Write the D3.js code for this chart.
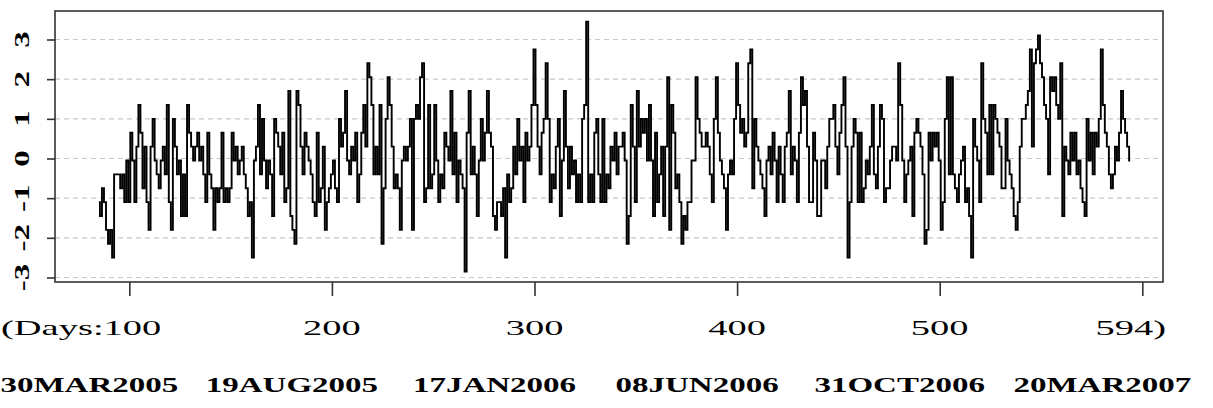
<!DOCTYPE html>
<html>
<head>
<meta charset="utf-8">
<script src="https://cdn.jsdelivr.net/npm/d3@7"></script>
<style>
    body { margin: 0; background: #fff; }
    svg text { font-family: "Liberation Serif", "Times New Roman", serif; fill: #000; }
</style>
</head>
<body>
<div id="chart"></div>
<script>
// standardized score per trading day, starting at day 85
let firstDay = 85;
let scores = [
    -1.1, -1.45, -0.75, -1.1, -1.8, -2.15, -1.8, -2.5, -0.4, -0.4,
    -0.4, -0.75, -0.4, -1.1, -0.05, -1.1, 0.65, -0.05, -1.1, 0.3,
    1.35, 0.65, -0.75, 0.3, -1.1, -1.8, 0.3, 1.0, -0.05, -0.4,
    -0.75, -0.05, 0.3, -0.4, 1.35, -1.1, -1.8, 1.0, 0.3, -0.4,
    -0.05, -1.45, -0.4, -1.45, 1.35, 0.65, 0.3, -0.05, 0.3, 0.65,
    // 135
    -0.05, 0.3, -0.4, -1.1, 0.65, -0.4, -0.75, -1.8, -0.75, -1.1,
    -0.75, 0.65, -1.1, -0.75, -1.1, -0.75, 0.65, -0.05, 0.3, -0.4,
    -0.05, 0.3, -0.4, -0.75, -1.45, -1.1, -2.5, -0.05, 0.3, 1.35,
    -0.4, 1.0, -0.05, -0.75, -0.05, -0.4, -1.45, 1.0, 0.65, 0.3,
    -0.4, 0.65, -1.1, -0.75, 1.7, -1.45, -1.8, -2.15, 1.7, 1.35,
    0.3, -0.4,
    // 187
    0.65, 0.3, -0.05, -0.4, -1.1, -1.45, 0.65, -1.1, -0.75, 0.3,
    -1.8, -1.1, -0.75, -0.4, -0.05, -0.75, -1.1, 1.0, 0.3, 0.65,
    1.7, -0.05, -0.4, 0.3, -0.05, 0.65, -1.1, -0.4, 0.65, 1.35,
    0.3, 2.4, 2.05, 1.35, -0.4, 0.3, -0.4, 1.35, -2.15, -0.75,
    1.0, 2.05, 1.35, 0.3, -0.75, -0.4, -0.75, -1.8, -0.05, 0.3,
    -0.05, 0.3, 1.0,
    // 240
    -1.8, 1.0, 1.35, 1.0, 2.05, 2.4, -1.1, -0.75, 1.35, -0.75,
    -0.4, 1.35, -0.05, -1.1, -0.4, -0.75, 0.65, 0.3, -0.05, 1.7,
    -0.4, 0.65, -1.1, -0.05, -0.4, -0.75, -2.85, 0.65, 1.7, -0.4,
    0.3, -0.4, -1.45, -0.05, 1.0, -0.05, 0.65, 1.7, 0.65, 0.3,
    -1.45, -1.8, -1.1, -1.1, -1.45, -0.75, -2.5, -0.4, -1.1, -0.75,
    0.3,
    // 291
    -0.4, 1.0, -0.05, 0.3, -1.1, 0.65, -0.05, 0.3, 1.35, 2.75,
    1.35, 0.3, -0.4, 0.65, 1.0, 2.4, 1.0, -1.1, -0.4, -0.75,
    0.3, 1.0, -1.45, -0.05, 1.7, 0.3, -0.75, 0.3, -0.4, -0.05,
    -1.1, -0.4, -1.1, 1.0, 1.35, 3.45, -1.1, -0.4, -1.1, 0.65,
    1.0, -0.4, -1.1, 1.0, -1.1, -0.4, -0.75, 0.3, -0.05, 0.65,
    // 341
    -0.4, 0.3, 0.3, 0.65, -0.05, -2.15, -1.45, 1.35, 0.3, -1.1,
    1.7, 0.3, 1.0, 0.65, 1.0, -0.05, 1.35, -0.05, -1.45, 0.65,
    -1.1, -0.4, 0.3, -1.45, 0.3, 2.05, -1.8, 1.35, 0.65, -0.75,
    -0.4, -1.1, -2.15, -1.45, -1.8, -1.1, -1.1, -0.05, -0.05, 2.05,
    1.0, 0.65, 0.3, 0.3, 0.65, 0.3, -0.4, -1.1, 1.0, 2.05,
    0.65, -0.05, -0.4, -0.75,
    // 395
    -1.8, -0.4, -0.05, -0.4, 1.0, 2.4, 1.35, 0.65, 1.0, 0.3,
    0.65, 2.4, 2.75, -0.75, 1.0, 0.3, -0.05, -0.4, -0.75, -1.45,
    -0.05, 0.3, -0.4, 0.65, -0.05, -1.1, 0.3, -0.4, -1.1, 0.3,
    0.65, 1.7, -0.4, 0.3, -0.05, -1.1, 0.65, 2.05, 1.35, 1.7,
    0.3, -1.1, -1.1, 0.65, -0.05, -1.45, -1.45, -0.05, -0.05, -0.75,
    0.3, 1.0,
    // 447
    1.0, 1.35, 0.3, -0.4, 0.65, 1.35, 2.05, 0.3, -2.5, -1.1,
    0.3, 1.0, 0.65, -1.1, 0.65, -1.1, -0.75, -0.05, -0.4, 0.3,
    1.35, -0.4, -0.75, 0.3, 1.35, 1.0, -1.1, -0.75, -0.75, -0.05,
    0.3, 0.3, -0.05, 2.4, 1.35, -0.05, -1.1, -0.4, -0.05, 0.3,
    -1.45, 0.65, 1.0, 0.65, 0.3, -0.4, -2.15, -1.8, 0.65,
    // 496
    -0.05, 0.65, 0.3, 0.65, -0.05, -1.8, -1.1, 1.0, 2.05, -0.4,
    2.05, -0.4, -0.75, -1.1, -0.4, -0.05, 0.3, -1.1, -0.75, -1.45,
    -2.5, 1.0, 0.3, -0.05, -1.1, 2.4, 1.0, 0.65, -0.4, 1.35,
    -0.4, 1.35, 1.0, 0.65, 0.3, -0.75, -0.75, 1.0, -0.05, -0.4,
    -0.75, -1.45, -1.8, -1.1, 0.3, 1.0, 1.0, 1.35, 1.7, 2.75,
    0.3, 2.4, 2.75, 3.1,
    // 550
    2.4, 2.05, 1.35, 1.0, -0.4, 2.05, 1.7, 2.05, 1.35, 1.0,
    2.4, -1.45, 0.3, -0.05, -0.4, 0.65, -0.05, 0.65, -0.4, -0.05,
    -0.75, -1.1, -1.45, 1.0, -0.05, 0.65, -0.4, 0.65, 0.3, 1.0,
    2.75, 1.35, 0.65, 0.3, -0.4, -0.75, -0.4, 0.3, -0.05, 0.65,
    1.7, 1.0, 0.65, 0.3, -0.05
];

let yTicks = [-3, -2, -1, 0, 1, 2, 3];
let dayTicks = [100, 200, 300, 400, 500, 600];
let dayLabels = ["(Days:100", "200", "300", "400", "500", "594)"];
let dateLabels = ["30MAR2005", "19AUG2005", "17JAN2006", "08JUN2006", "31OCT2006", "20MAR2007"];

let width = 1213;
let height = 408;

let frame = { left: 55, top: 11, right: 1163, bottom: 282 };

let svg = d3.select("#chart").append("svg")
    .attr("width", width)
    .attr("height", height);

let x = d3.scaleLinear().domain([100, 600]).range([129.3, 1142.3]);
let y = d3.scaleLinear().domain([-3, 3]).range([277.5, 39.5]);

// dashed reference lines
svg.append("g")
    .selectAll("line")
    .data(yTicks)
    .enter()
    .append("line")
    .attr("x1", frame.left)
    .attr("x2", frame.right)
    .attr("y1", function (d) { return y(d); })
    .attr("y2", function (d) { return y(d); })
    .attr("stroke", "#c8c8c8")
    .attr("stroke-width", 1.2)
    .attr("stroke-dasharray", "5,4");

// the series, drawn as steps so the moves are vertical
let line = d3.line()
    .curve(d3.curveStep)
    .x(function (d, i) { return x(firstDay + i); })
    .y(function (d) { return y(d); });

svg.append("path")
    .datum(scores)
    .attr("fill", "none")
    .attr("stroke", "#000")
    .attr("stroke-width", 1.9)
    .attr("d", line);

// frame
svg.append("rect")
    .attr("x", frame.left)
    .attr("y", frame.top)
    .attr("width", frame.right - frame.left)
    .attr("height", frame.bottom - frame.top)
    .attr("fill", "none")
    .attr("stroke", "#333")
    .attr("stroke-width", 1.6);

// y axis
let yAxis = svg.append("g")
    .attr("transform", "translate(" + frame.left + ",0)")
    .call(d3.axisLeft(y).tickValues(yTicks).tickSize(8).tickFormat(""));
yAxis.select(".domain").remove();
yAxis.selectAll("line").attr("stroke", "#333").attr("stroke-width", 1.6);

svg.append("g")
    .selectAll("text")
    .data(yTicks)
    .enter()
    .append("text")
    .attr("transform", function (d) {
        return "translate(29," + y(d) + ") rotate(-90) scale(1.5,1)";
    })
    .attr("text-anchor", "middle")
    .style("font-size", "22px")
    .style("font-weight", "bold")
    .text(function (d) { return d; });

// x axis
let xAxis = svg.append("g")
    .attr("transform", "translate(0," + frame.bottom + ")")
    .call(d3.axisBottom(x).tickValues(dayTicks).tickSize(14).tickFormat(""));
xAxis.select(".domain").remove();
xAxis.selectAll("line").attr("stroke", "#333").attr("stroke-width", 1.6);

svg.append("g")
    .selectAll("text")
    .data(dayTicks)
    .enter()
    .append("text")
    .attr("transform", function (d, i) {
        let px = x(d);
        if (i === 0) px = 1;
        if (i === dayTicks.length - 1) px = 1166;
        return "translate(" + px + ",335) scale(1.75,1)";
    })
    .attr("text-anchor", function (d, i) {
        if (i === 0) return "start";
        if (i === dayTicks.length - 1) return "end";
        return "middle";
    })
    .style("font-size", "22px")
    .text(function (d, i) { return dayLabels[i]; });

// calendar dates under the day numbers
svg.append("g")
    .selectAll("text")
    .data(dayTicks)
    .enter()
    .append("text")
    .attr("transform", function (d) {
        return "translate(" + (x(d) - 40) + ",392) scale(1.5,1)";
    })
    .attr("text-anchor", "middle")
    .style("font-size", "22px")
    .style("font-weight", "bold")
    .text(function (d, i) { return dateLabels[i]; });
</script>
</body>
</html>
